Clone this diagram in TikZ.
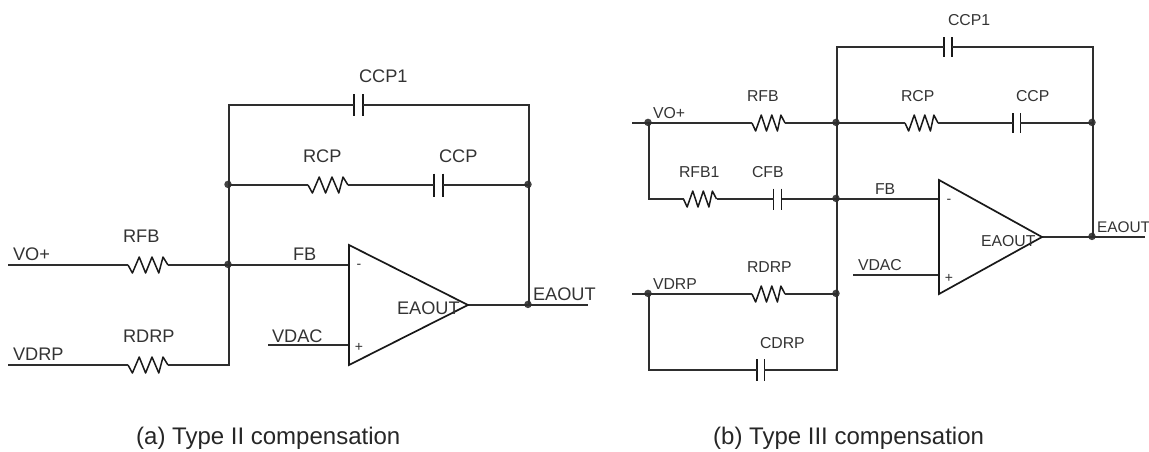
\documentclass[tikz,border=0pt]{standalone}
\usepackage{fontspec}
\setmainfont{Liberation Sans}
\usetikzlibrary{calc}
\definecolor{ink}{HTML}{2E2E2E}
\definecolor{txt}{HTML}{333333}
\tikzset{
  wire/.style={draw=ink,line width=1.6pt},
  part/.style={draw=black!90,line width=1.5pt,line join=round},
  opamp/.style={draw=black!90,line width=1.7pt,line join=miter},
  partbox/.style={inner sep=0pt,outer sep=0pt,draw=none,minimum height=16pt},
  dotnode/.style={circle,fill=ink!90,inner sep=0pt,minimum size=7.5pt},
  lbl/.style={inner sep=0pt,outer sep=0pt,anchor=base west,text=txt,font=\fontsize{18.2}{20}\selectfont},
  lblb/.style={lbl,font=\fontsize{15.8}{19}\selectfont},
  sign/.style={inner sep=0pt,text=txt,font=\fontsize{14}{16}\selectfont},
  caption/.style={inner sep=0pt,anchor=base west,text=black!85,font=\fontsize{24}{26}\selectfont},
}
\newcommand{\resis}[3]{% name, centre, width
  \node[partbox,minimum width=#3pt] (#1) at (#2) {};
  \draw[part] (#1.west) -- ++({.11*#3},8) -- ++({.17*#3},-16) -- ++({.16*#3},16) -- ++({.16*#3},-16)
     -- ++({.17*#3},16) -- ++({.105*#3},-16) -- (#1.east);
}
\newcommand{\capac}[4]{% name, centre, gap, half height
  \node[partbox,minimum width=#3pt,minimum height=#4pt] (#1) at (#2) {};
  \draw[part] (#1.north west) -- (#1.south west);
  \draw[part] (#1.north east) -- (#1.south east);
}
\newcommand{\junc}[2]{% name, position: wire point and its dot
  \coordinate (#1) at (#2);
  \node[dotnode] (#1d) at ($(#2)+(-1,-.6)$) {};
}
\begin{document}
\begin{tikzpicture}[x=1pt,y=-1pt]
\useasboundingbox (0,0) rectangle (1149,451);
% ---------- (a) ----------
\coordinate (aVO) at (8,265);
\coordinate (aVD) at (8,365);
\coordinate (aVA) at (268,345);
\coordinate (aTL) at (229,105);
\coordinate (aTR) at (529,105);
\coordinate (aBL) at (229,365);
\coordinate (aEnd) at (588,305);
\coordinate (aA) at (349,245);
\coordinate (aB) at (349,365);
\coordinate (aC) at (468,305);
\coordinate (aM) at (349,265);
\coordinate (aP) at (349,345);
\junc{aJ1}{229,185}
\junc{aJ2}{229,265}
\junc{aJ3}{529,185}
\junc{aJ4}{529,305}
\resis{aRFB}{148,265}{40}
\resis{aRDRP}{148,365}{40}
\resis{aRCP}{328,185}{40}
\capac{aCCP}{438.5,185}{9}{23}
\capac{aCCP1}{358.5,105}{9}{22}
\draw[wire] (aVO) -- (aRFB.west);
\draw[wire] (aRFB.east) -- (aJ2);
\draw[wire] (aJ2) -- (aM);
\draw[wire] (aVD) -- (aRDRP.west);
\draw[wire] (aRDRP.east) -- (aBL) -- (aJ2) -- (aJ1) -- (aTL) -- (aCCP1.west);
\draw[wire] (aCCP1.east) -- (aTR) -- (aJ3) -- (aJ4);
\draw[wire] (aJ1) -- (aRCP.west);
\draw[wire] (aRCP.east) -- (aCCP.west);
\draw[wire] (aCCP.east) -- (aJ3);
\draw[wire] (aVA) -- (aP);
\draw[wire] (aC) -- (aJ4) -- (aEnd);
\draw[opamp] (aA) -- (aB) -- (aC) -- cycle;
\node[lbl] (aL1) at (13,260) {VO+};
\node[lbl] (aL2) at (13,360) {VDRP};
\node[lbl] (aL3) at (123,242) {RFB};
\node[lbl] (aL4) at (123,342) {RDRP};
\node[lbl] (aL5) at (272,342) {VDAC};
\node[lbl] (aL6) at (293,260) {FB};
\node[lbl] (aL7) at (303,162) {RCP};
\node[lbl] (aL8) at (439,162) {CCP};
\node[lbl] (aL9) at (359,82) {CCP1};
\node[lbl] (aL10) at (397,314) {EAOUT};
\node[lbl] (aL11) at (533,300) {EAOUT};
\node[sign] (aS1) at (359,266) {-};
\node[sign] (aS2) at (359,347) {+};
\node[caption] (aCap) at (136,444) {(a) Type II compensation};
% ---------- (b) ----------
\coordinate (bVO) at (632,123);
\coordinate (bVD) at (632,294);
\coordinate (bVA) at (853,275);
\coordinate (bTL) at (837,47);
\coordinate (bTR) at (1093,47);
\coordinate (bFBL) at (649,199);
\coordinate (bCL) at (649,370);
\coordinate (bCR) at (837,370);
\coordinate (bEnd) at (1145,237);
\coordinate (bA) at (939,180);
\coordinate (bB) at (939,294);
\coordinate (bC) at (1042,237);
\coordinate (bM) at (939,199);
\coordinate (bP) at (939,275);
\junc{bJ0}{649,123}
\junc{bJ1}{649,294}
\junc{bJ2}{837,123}
\junc{bJ3}{837,199}
\junc{bJ4}{837,294}
\junc{bJ5}{1093,123}
\junc{bJ6}{1093,237}
\resis{bRFB}{768.5,123}{33}
\resis{bRDRP}{768.5,294}{33}
\resis{bRFB1}{700,199}{33}
\resis{bRCP}{921.5,123}{33}
\capac{bCFB}{777.5,199}{8}{21}
\capac{bCDRP}{760.5,370}{7.5}{22}
\capac{bCCP}{1016.5,123}{7.5}{20}
\capac{bCCP1}{948,47}{8}{20}
\draw[wire] (bVO) -- (bJ0) -- (bRFB.west);
\draw[wire] (bRFB.east) -- (bJ2);
\draw[wire] (bJ0) -- (bFBL) -- (bRFB1.west);
\draw[wire] (bRFB1.east) -- (bCFB.west);
\draw[wire] (bCFB.east) -- (bJ3);
\draw[wire] (bJ3) -- (bM);
\draw[wire] (bVD) -- (bJ1) -- (bRDRP.west);
\draw[wire] (bRDRP.east) -- (bJ4);
\draw[wire] (bJ1) -- (bCL) -- (bCDRP.west);
\draw[wire] (bCDRP.east) -- (bCR) -- (bJ4) -- (bJ3) -- (bJ2) -- (bTL) -- (bCCP1.west);
\draw[wire] (bCCP1.east) -- (bTR) -- (bJ5) -- (bJ6);
\draw[wire] (bJ2) -- (bRCP.west);
\draw[wire] (bRCP.east) -- (bCCP.west);
\draw[wire] (bCCP.east) -- (bJ5);
\draw[wire] (bVA) -- (bP);
\draw[wire] (bC) -- (bJ6) -- (bEnd);
\draw[opamp] (bA) -- (bB) -- (bC) -- cycle;
\node[lblb] (bL1) at (653,118) {VO+};
\node[lblb] (bL2) at (747,101) {RFB};
\node[lblb] (bL3) at (679,177) {RFB1};
\node[lblb] (bL4) at (752,177) {CFB};
\node[lblb] (bL5) at (875,194) {FB};
\node[lblb] (bL6) at (653,289) {VDRP};
\node[lblb] (bL7) at (747,272) {RDRP};
\node[lblb] (bL8) at (760,348) {CDRP};
\node[lblb] (bL9) at (858,270) {VDAC};
\node[lblb] (bL10) at (948,25) {CCP1};
\node[lblb] (bL11) at (901,101) {RCP};
\node[lblb] (bL12) at (1016,101) {CCP};
\node[lblb] (bL13) at (981,246) {EAOUT};
\node[lblb,font=\fontsize{15.4}{19}\selectfont] (bL14) at (1097,232) {EAOUT};
\node[sign] (bS1) at (949,201) {-};
\node[sign] (bS2) at (949,278) {+};
\node[caption] (bCap) at (713,444) {(b) Type III compensation};
\end{tikzpicture}
\end{document}
